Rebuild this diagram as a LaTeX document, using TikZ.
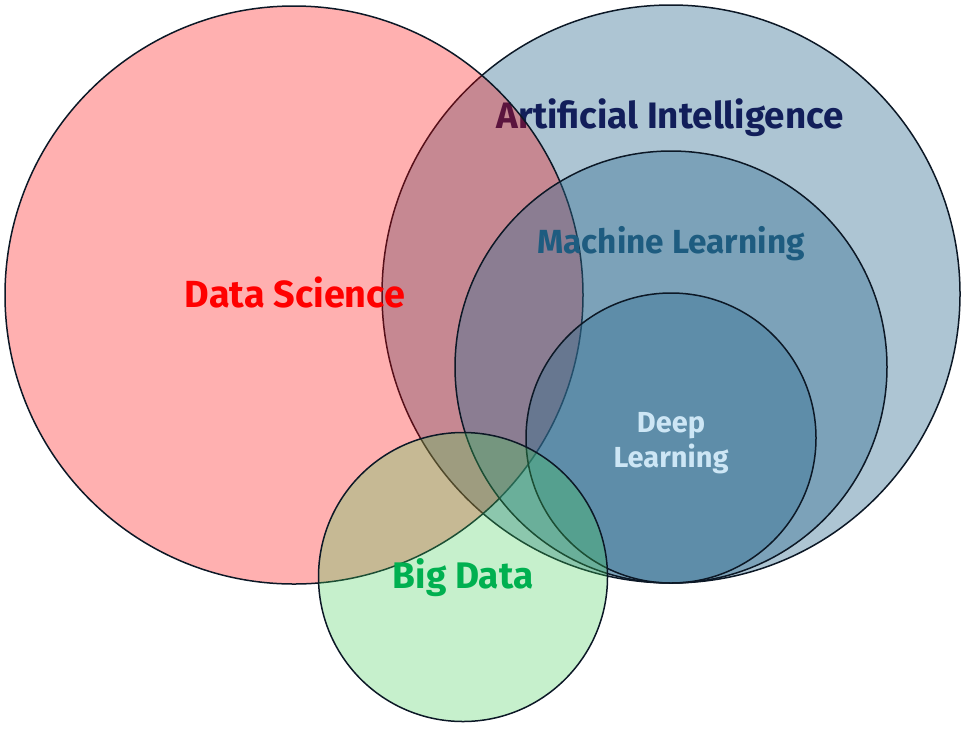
\documentclass[tikz,border=0pt]{standalone}
\usepackage{fontspec}
\setmainfont{Fira Sans}
\definecolor{dsred}{RGB}{255,0,0}
\definecolor{aiblue}{RGB}{50,110,145}
\definecolor{bdgreen}{RGB}{65,205,85}
\definecolor{rim}{RGB}{12,24,38}
\definecolor{ainavy}{RGB}{18,30,90}
\definecolor{mlteal}{RGB}{30,92,128}
\definecolor{dlpale}{RGB}{205,230,245}
\definecolor{bdtext}{RGB}{0,176,80}

\begin{document}
\begin{tikzpicture}[x=1pt,y=-1pt,
  set/.style={circle,draw=rim,line width=1.5pt,inner sep=0pt,minimum size=#1},
  tag/.style={anchor=base,inner sep=0pt,font=\fontsize{#1}{35}\selectfont\bfseries}]
  \useasboundingbox (0,0) rectangle (968,729);
  % outer circle and its label first
  \node[set=578pt,fill=aiblue,fill opacity=0.4] (ai) at (671,294) {};
  \node[tag=36.8,text=ainavy] (ai-t) at (670,128) {Artificial Intelligence};
  % data science over it
  \node[set=578pt,fill=dsred,fill opacity=0.31] (ds) at (294,295) {};
  \node[tag=37.8,text=dsred] (ds-t) at (295,307) {Data Science};
  % nested circles
  \node[set=432pt,fill=aiblue,fill opacity=0.4] (ml) at (671,367) {};
  \node[set=290pt,fill=aiblue,fill opacity=0.4] (dl) at (671,438) {};
  \node[tag=33.4,text=mlteal] (ml-t) at (671,253) {Machine Learning};
  \node[tag=29,text=dlpale,align=center] (dl-t) at (671,467) {Deep\\Learning};
  % big data
  \node[set=289pt,fill=bdgreen,fill opacity=0.3] (bd) at (463,577) {};
  \node[tag=37,text=bdtext] (bd-t) at (463,588) {Big Data};
\end{tikzpicture}
\end{document}
